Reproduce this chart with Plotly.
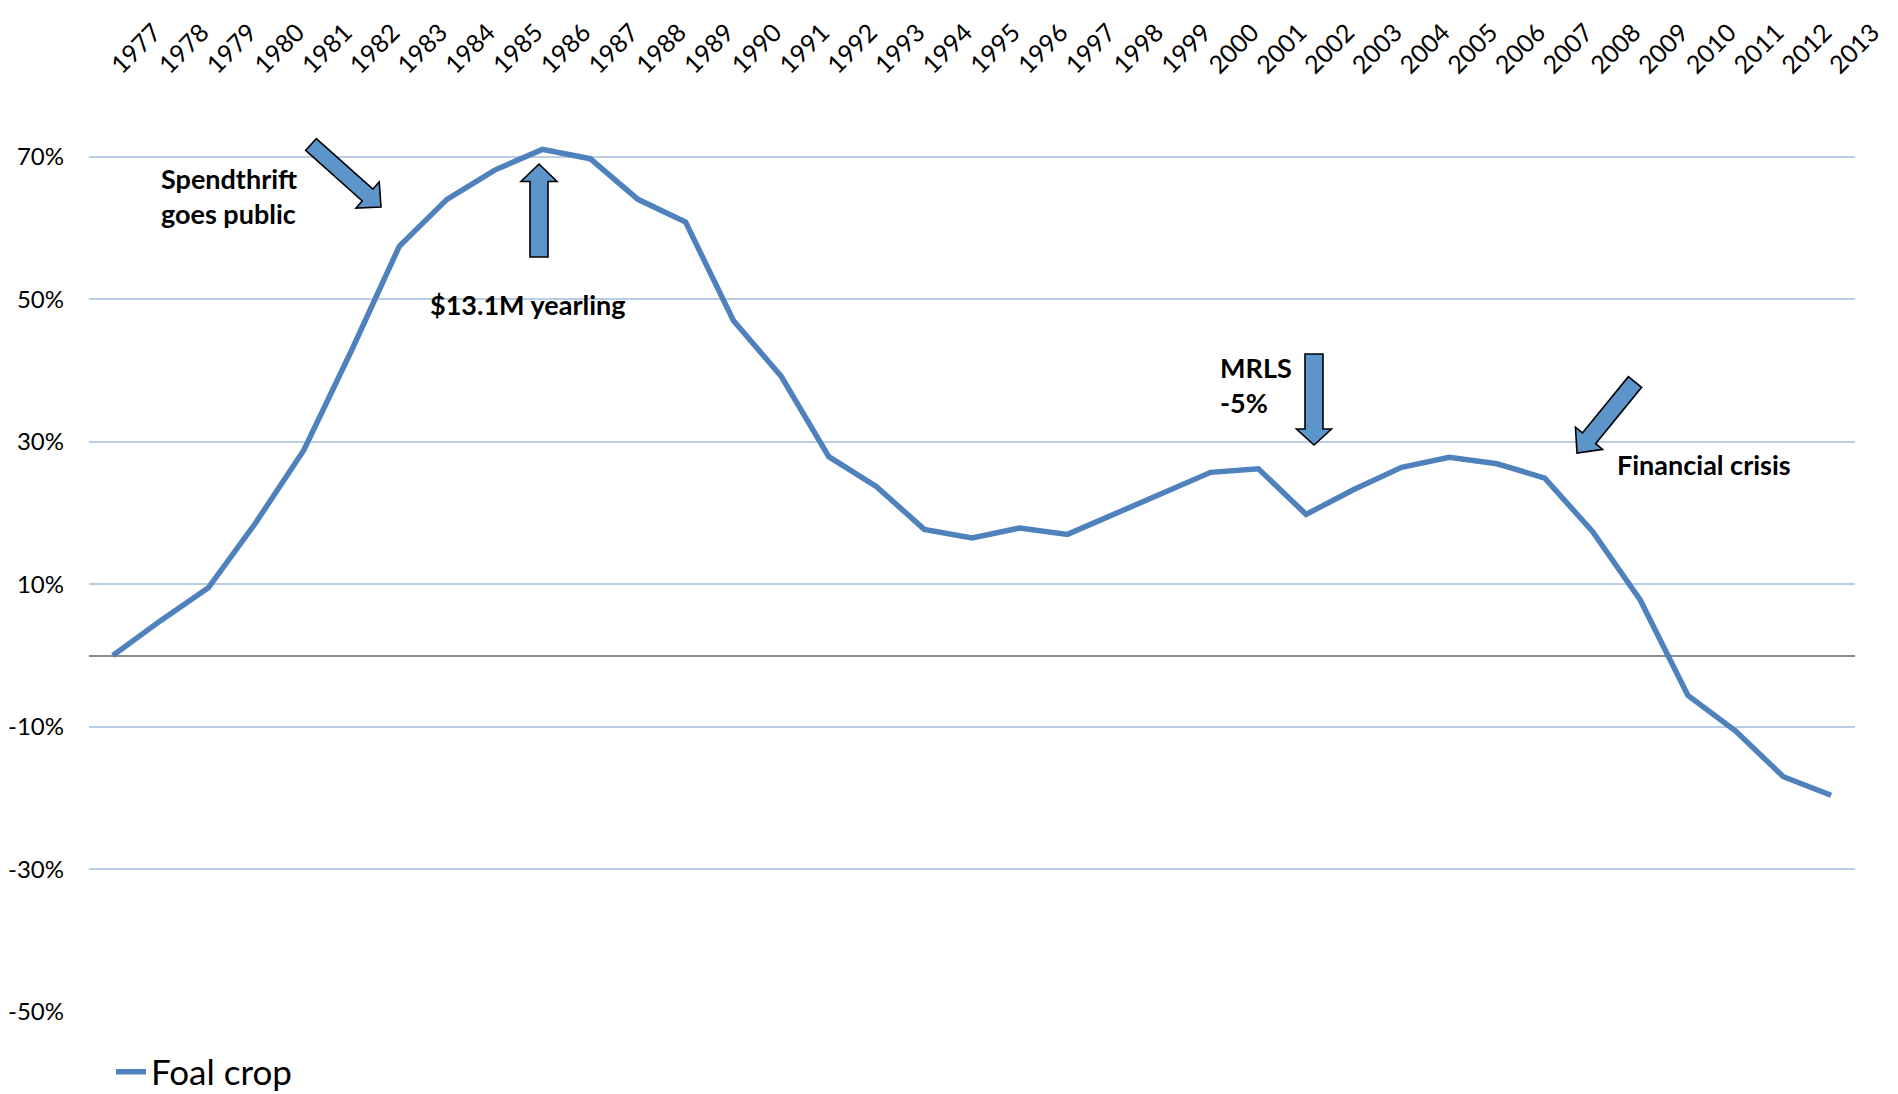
import plotly.graph_objects as go

# ---- data ----
years = list(range(1977, 2014))
foal_crop = [0.0, 4.9, 9.5, 18.7, 28.8, 42.8, 57.4, 64.0, 68.1, 71.0,
             69.7, 64.0, 60.8, 47.0, 39.2, 27.9, 23.7, 17.7, 16.5, 17.9,
             17.0, 19.9, 23.0, 25.7, 26.2, 19.8, 23.3, 26.4, 27.8, 26.9,
             24.9, 17.4, 7.8, -5.6, -10.6, -17.0, -19.6]
y_ticks = [-50, -30, -10, 10, 30, 50, 70]
y_tick_labels = ["-50%", "-30%", "-10%", "10%", "30%", "50%", "70%"]
series_name = "Foal crop"

# ---- layout geometry ----
W, H = 1898, 1094
ML, MR, MT, MB = 89, 43, 71, 82
XR = [1976.5, 2013.5]
YR = [-50, 82]
pw = W - ML - MR
ph = H - MT - MB


def px2d(px, py):
    x = XR[0] + (px - ML) / pw * (XR[1] - XR[0])
    y = YR[1] - (py - MT) / ph * (YR[1] - YR[0])
    return x, y


def arrow_path(tail, tip, shaft_hw, head_hw, head_len):
    import math
    tx, ty = tail
    hx, hy = tip
    dx, dy = hx - tx, hy - ty
    L = math.hypot(dx, dy)
    ux, uy = dx / L, dy / L
    nx, ny = -uy, ux
    bx, by = hx - ux * head_len, hy - uy * head_len
    pts = [
        (tx + nx * shaft_hw, ty + ny * shaft_hw),
        (bx + nx * shaft_hw, by + ny * shaft_hw),
        (bx + nx * head_hw, by + ny * head_hw),
        (hx, hy),
        (bx - nx * head_hw, by - ny * head_hw),
        (bx - nx * shaft_hw, by - ny * shaft_hw),
        (tx - nx * shaft_hw, ty - ny * shaft_hw),
    ]
    d = []
    for i, (px, py) in enumerate(pts):
        x, y = px2d(px, py)
        d.append(("M" if i == 0 else "L") + f"{x:.5f},{y:.5f}")
    return " ".join(d) + " Z"


FONT = "Lato, 'Open Sans', sans-serif"

fig = go.Figure()
fig.add_trace(go.Scatter(
    x=years, y=foal_crop, mode="lines", name=series_name,
    line=dict(color="#4F81BD", width=5.5),
    hoverinfo="skip",
))

# arrows (decorations, pixel-specified)
arrows = [
    ((311, 144.5), (381, 207), 8, 17.5, 18),
    ((539, 257), (539, 164), 9, 18, 17.5),
    ((1314, 354), (1314, 445), 9, 17.5, 16),
    ((1635, 382), (1577, 453), 8.5, 17.5, 19),
]
for tail, tip, shw, hhw, hl in arrows:
    fig.add_shape(type="path", path=arrow_path(tail, tip, shw, hhw, hl),
                  xref="x", yref="y", fillcolor="#5B95C9",
                  line=dict(color="black", width=1.6), layer="above")

# text annotations
texts = [
    ("Spendthrift<br>goes public", 159, 196),
    ("$13.1M yearling", 428, 304),
    ("MRLS<br>-5%", 1218, 385),
    ("Financial crisis", 1615, 464),
]
for t, px, py in texts:
    x, y = px2d(px, py)
    fig.add_annotation(x=x, y=y, xref="x", yref="y", text=f"<b>{t}</b>",
                       showarrow=False, xanchor="left", yanchor="middle",
                       align="left",
                       font=dict(family=FONT, size=27, color="black"))

fig.update_layout(
    width=W, height=H,
    margin=dict(l=ML, r=MR, t=MT, b=MB, pad=0, autoexpand=False),
    paper_bgcolor="white", plot_bgcolor="white",
    font=dict(family=FONT, size=23, color="black"),
    showlegend=True,
    legend=dict(x=22 / pw, xanchor="left", y=(ph - (1072 - MT)) / ph,
                yanchor="middle", orientation="h",
                font=dict(family=FONT, size=35, color="black"),
                bgcolor="rgba(0,0,0,0)", itemwidth=30),
    xaxis=dict(
        range=XR, side="top", tickmode="array", tickvals=years,
        ticktext=[str(y) for y in years], tickangle=-45,
        showgrid=False, zeroline=False, showline=False, ticks="",
        ticklabelstandoff=-14,
        tickfont=dict(family=FONT, size=25, color="black"),
        fixedrange=True, automargin=False,
    ),
    yaxis=dict(
        range=YR, tickmode="array", tickvals=y_ticks, ticktext=y_tick_labels,
        showgrid=True, gridcolor="#B9CDE5", gridwidth=1.6,
        zeroline=True, zerolinecolor="#8C8C8C", zerolinewidth=1.6,
        showline=False, ticks="", ticklabelstandoff=24,
        tickfont=dict(family=FONT, size=24, color="black"),
        fixedrange=True, automargin=False,
    ),
)

fig.write_html("out.html", config={"displayModeBar": False},
               post_script="document.body.style.margin='0px';")
